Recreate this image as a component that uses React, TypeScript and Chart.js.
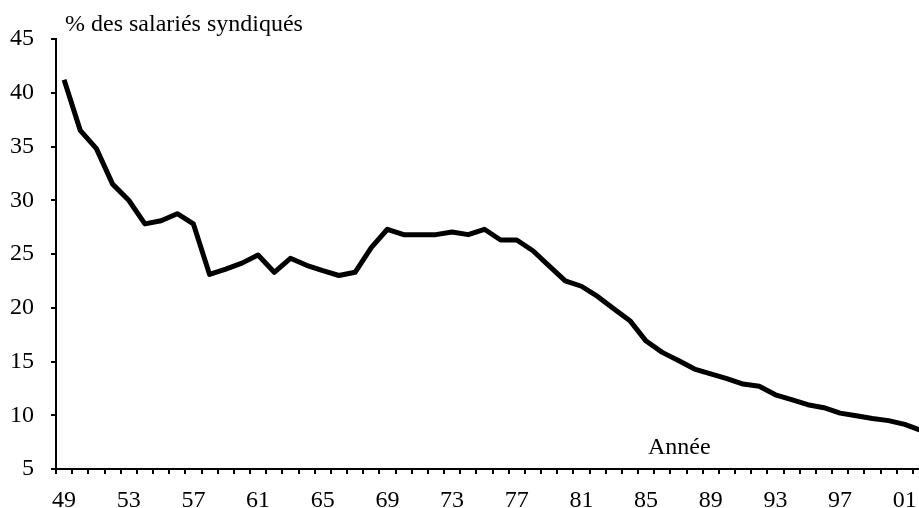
import React, { useEffect, useRef } from "react";
import { Chart, registerables } from "chart.js";

Chart.register(...registerables);

const years: string[] = [
  "49","50","51","52","53","54","55","56","57","58",
  "59","60","61","62","63","64","65","66","67","68",
  "69","70","71","72","73","74","75","76","77","78",
  "79","80","81","82","83","84","85","86","87","88",
  "89","90","91","92","93","94","95","96","97","98",
  "99","00","01","02",
];

const unionRate: number[] = [
  41.2, 36.5, 34.8, 31.5, 30.0, 27.8, 28.1, 28.75, 27.8, 23.1,
  23.6, 24.15, 24.9, 23.3, 24.6, 23.95, 23.45, 23.0, 23.3, 25.6,
  27.3, 26.8, 26.8, 26.8, 27.05, 26.8, 27.3, 26.3, 26.3, 25.3,
  23.9, 22.5, 22.0, 21.05, 19.9, 18.8, 16.9, 15.85, 15.1, 14.3,
  13.85, 13.4, 12.9, 12.7, 11.9, 11.45, 10.98, 10.7, 10.2, 9.95,
  9.7, 9.5, 9.15, 8.6,
];

const yTitle = "% des salariés syndiqués";
const xTitle = "Année";
const yMin = 5;
const yMax = 45;
const yStep = 5;
const labelEvery = 4;

const FONT = "'Liberation Serif', 'Times New Roman', serif";

export default function App() {
  const canvasRef = useRef<HTMLCanvasElement | null>(null);

  useEffect(() => {
    const canvas = canvasRef.current;
    if (!canvas) return;

    const textPlugin = {
      id: "axisTexts",
      afterDraw(chart: any) {
        const { ctx, chartArea } = chart;
        ctx.save();
        ctx.fillStyle = "#000";
        ctx.font = `24px ${FONT}`;
        ctx.textAlign = "left";
        ctx.textBaseline = "alphabetic";
        ctx.fillText(yTitle, chartArea.left + 9, chartArea.top - 8);
        ctx.fillText(xTitle, chartArea.left + 592, chartArea.bottom - 15);
        ctx.restore();
      },
    };

    const chart = new Chart(canvas, {
      type: "line",
      data: {
        labels: years,
        datasets: [
          {
            data: unionRate,
            borderColor: "#000",
            borderWidth: 5,
            pointRadius: 0,
            tension: 0,
            fill: false,
            borderJoinStyle: "round",
          },
        ],
      },
      options: {
        responsive: false,
        animation: false,
        layout: { padding: { top: 39, right: 11, left: 0, bottom: 0 } },
        plugins: {
          legend: { display: false },
          title: { display: false },
          tooltip: { enabled: false },
        },
        scales: {
          x: {
            type: "category",
            offset: true,
            grid: {
              display: true,
              offset: true,
              drawOnChartArea: false,
              drawTicks: true,
              tickLength: 5,
              tickWidth: 2,
              tickColor: "#000",
              color: "#000",
              lineWidth: 2,
            },
            border: { display: true, color: "#000", width: 2 },
            ticks: {
              autoSkip: false,
              maxRotation: 0,
              minRotation: 0,
              padding: 12,
              color: "#000",
              font: { family: FONT, size: 24 },
              callback: (_v: any, i: number) =>
                i % labelEvery === 0 ? years[i] : "",
            },
            afterFit: (scale: any) => {
              scale.height = 39;
            },
          },
          y: {
            min: yMin,
            max: yMax,
            grid: {
              display: true,
              drawOnChartArea: false,
              drawTicks: true,
              tickLength: 5,
              tickWidth: 2,
              tickColor: "#000",
              color: "#000",
              lineWidth: 2,
            },
            border: { display: true, color: "#000", width: 2 },
            ticks: {
              stepSize: yStep,
              padding: 17,
              color: "#000",
              font: { family: FONT, size: 24 },
            },
            afterFit: (scale: any) => {
              scale.width = 56;
            },
          },
        },
      },
      plugins: [textPlugin],
    });

    return () => chart.destroy();
  }, []);

  return (
    <div
      style={{
        position: "fixed",
        left: 0,
        top: 0,
        width: 919,
        height: 508,
        overflow: "hidden",
        background: "#fff",
      }}
    >
      <canvas
        ref={canvasRef}
        width={940}
        height={508}
        style={{ display: "block", width: 940, height: 508 }}
      />
    </div>
  );
}
